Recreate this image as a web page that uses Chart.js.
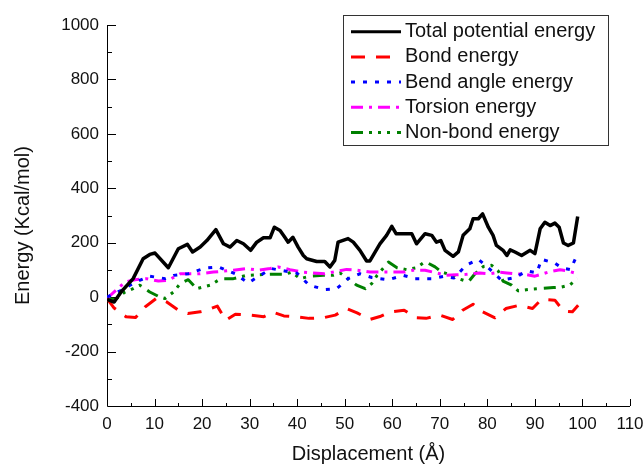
<!DOCTYPE html>
<html><head><meta charset="utf-8">
<script src="https://cdn.jsdelivr.net/npm/chart.js@4/dist/chart.umd.min.js"></script>
<style>html,body{margin:0;padding:0;background:#fff}#wrap{width:644px;height:466px}</style>
</head><body><div id="wrap"><canvas id="c" width="644" height="466"></canvas></div>
<script>
const xTickValues = [0,10,20,30,40,50,60,70,80,90,100,110];
const yTickValues = [-400,-200,0,200,400,600,800,1000];
const xTitle = 'Displacement (Å)';
const yTitle = 'Energy (Kcal/mol)';
const seriesNames = ['Total potential energy','Bond energy','Bend angle energy','Torsion energy','Non-bond energy'];

const totalX = [0,1.5,3,5.5,7.6,9,10.1,12.9,15,16.9,18,19.6,21,22.9,24.5,25.9,27.3,28.7,30.2,31.5,32.9,34.3,35.2,36.4,37.4,38.1,39.1,40.2,41.3,42,44.1,45.8,46.9,47.9,48.6,50.7,51.8,53.2,54.6,55.3,57.4,58.8,59.9,60.8,62.3,64.1,65.1,66.9,68.3,69.3,70.2,71.1,72.8,73.9,74.9,76.3,77,78.1,79,80.2,81.2,81.9,83.3,84.1,84.8,85.8,87.2,89,90,91.1,92.1,93.2,94.2,95.1,96,97,98.1,99];
const totalY = [-8,-18,20,68,141,157,162,108,178,194,166,184,208,248,196,184,208,196,172,202,218,218,257,245,220,202,220,184,153,141,131,131,111,135,202,215,202,172,133,133,196,227,260,233,233,233,196,233,227,202,208,172,150,166,227,251,288,288,306,257,227,190,172,153,174,166,153,172,160,251,275,263,272,257,199,190,199,296];

const bondX = [0,1.5,4,6,8,10.5,12.5,15,17,19.6,21,23.2,25,27,30,33,35,37.2,39.7,42.5,45.4,48,50.4,52.6,55.3,57.6,59.6,62.5,65,67.1,70,72.7,74.8,77,79,81.6,83.9,86.7,89.5,91.4,94.2,96,97.9,99.1];
const bondY = [-5,-40,-72,-75,-36,-3,-17,-48,-60,-54,-48,-33,-85,-63,-66,-72,-56,-69,-72,-78,-76,-66,-42,-58,-82,-70,-54,-48,-76,-78,-66,-82,-48,-26,-54,-76,-42,-30,-42,-8,-11,-51,-54,-30];

const bendX = [0,3,6,9,12.2,14,17.1,20.6,23.4,26.9,29.7,31.5,34.6,37.4,40,42.5,45.8,48.3,50.7,53.2,55.7,59.2,62.3,64.8,68.3,71.1,73,75.5,78.1,80.2,83,85.8,88.3,90.4,91.4,94.2,95.6,97.5,98.9];
const bendY = [0,25,55,77,68,80,86,107,111,86,52,72,105,96,88,44,28,31,68,86,72,64,80,68,68,77,70,117,139,108,62,72,96,89,139,125,108,101,157];

const torsionX = [0,3.8,5.9,8.3,10.8,12.9,15.4,19.6,22.4,26.6,29.4,31.8,34.3,36,38.5,41.3,43.4,45.8,48.3,50.4,52.5,55.3,59.9,62.7,64.4,66.9,69.3,71.4,73.5,75.6,78.4,80.5,82.6,84.1,85.8,87.9,90,92.8,95.3,97,98.9];
const torsionY = [-5,56,64,68,59,62,86,86,92,99,105,99,105,111,101,92,89,86,95,102,99,92,92,92,99,99,89,80,82,84,89,86,92,89,86,84,77,92,101,96,86];

const nonbondX = [0,1.7,3.8,5.5,6.9,9,10.8,12.2,14,15.4,17.1,18.9,21.7,23.4,24.5,26.6,29.4,31.5,34.6,37.4,38.9,40.6,42.7,45.5,47.5,49,50.7,52.5,54.3,55.7,56.8,59.2,61,63,65.1,66.9,69,70.4,72.8,73.9,76,77.4,79.2,80.9,82.3,83.3,85.1,86.5,88.6,90.7,93.9,95.6,97.3,98.9];
const nonbondY = [-5,-9,19,31,44,19,3,-5,19,50,64,31,44,62,68,68,80,82,84,84,92,68,77,80,80,89,68,44,31,50,80,129,108,101,108,131,111,92,80,68,56,86,113,117,96,59,44,23,28,31,35,37,44,68];

const colors = ['#000000','#ff0000','#0000ff','#ff00ff','#008000'];
const widths = [3.5,3,3,3,3];
const dashes = [[],[14,11],[4,8],[12,6,3,6],[12,6,3,6,3,6,3,7]];
const pts = (xs, ys) => xs.map((x, i) => ({x: x, y: ys[i]}));
const seriesData = [pts(totalX,totalY), pts(bondX,bondY), pts(bendX,bendY), pts(torsionX,torsionY), pts(nonbondX,nonbondY)];

const FONT = "'Liberation Sans', Arial, sans-serif";

const axesPlugin = {
  id: 'axesPlugin',
  beforeDatasetsDraw(chart) {
    const {ctx, chartArea: a, scales: {x, y}} = chart;
    ctx.save();
    ctx.strokeStyle = '#000';
    ctx.lineWidth = 1;
    ctx.beginPath();
    ctx.moveTo(Math.round(a.left) + 0.5, a.top);
    ctx.lineTo(Math.round(a.left) + 0.5, Math.round(a.bottom) + 0.5);
    ctx.lineTo(a.right, Math.round(a.bottom) + 0.5);
    ctx.stroke();
    ctx.beginPath();
    for (let v = x.min; v <= x.max + 0.001; v += 5) {
      const px = Math.round(x.getPixelForValue(v)) + 0.5;
      const len = (v % 10 === 0) ? 7 : 3;
      ctx.moveTo(px, Math.round(a.bottom));
      ctx.lineTo(px, Math.round(a.bottom) - len);
    }
    for (let v = y.min; v <= y.max + 0.001; v += 100) {
      const py = Math.round(y.getPixelForValue(v)) + 0.5;
      const len = (v % 200 === 0) ? 8 : 4;
      ctx.moveTo(Math.round(a.left) + 1, py);
      ctx.lineTo(Math.round(a.left) + 1 + len, py);
    }
    ctx.stroke();
    ctx.save();
    ctx.translate(23, 225.5);
    ctx.rotate(-Math.PI / 2);
    ctx.fillStyle = '#111';
    ctx.font = '20px ' + FONT;
    ctx.textAlign = 'center';
    ctx.textBaseline = 'middle';
    ctx.fillText(yTitle, 0, 0);
    ctx.restore();
    ctx.restore();
  },
  afterDraw(chart) {
    const ctx = chart.ctx;
    ctx.save();
    ctx.strokeStyle = '#333';
    ctx.lineWidth = 1;
    ctx.strokeRect(343.5, 15.5, 265, 130);
    const rows = [31.7, 56.9, 82.1, 107.3, 132.5];
    chart.data.datasets.forEach((ds, i) => {
      const ry = rows[i];
      ctx.beginPath();
      ctx.setLineDash(ds.borderDash || []);
      ctx.strokeStyle = ds.borderColor;
      ctx.lineWidth = 3;
      ctx.lineCap = 'butt';
      ctx.moveTo(351, ry);
      ctx.lineTo(401, ry);
      ctx.stroke();
      ctx.setLineDash([]);
      ctx.fillStyle = '#111';
      ctx.font = '20px ' + FONT;
      ctx.textBaseline = 'middle';
      ctx.textAlign = 'left';
      ctx.fillText(ds.label, 405, ry);
    });
    ctx.restore();
  }
};

new Chart(document.getElementById('c'), {
  type: 'line',
  data: {
    datasets: seriesNames.map((name, i) => ({
      label: name,
      data: seriesData[i],
      borderColor: colors[i],
      backgroundColor: colors[i],
      borderWidth: widths[i],
      borderDash: dashes[i],
      borderCapStyle: 'butt',
      borderJoinStyle: 'round',
      pointRadius: 0,
      tension: 0,
      fill: false
    }))
  },
  options: {
    responsive: false,
    animation: false,
    devicePixelRatio: 1,
    layout: {padding: {top: 25, right: 14, left: 0, bottom: 0}},
    plugins: {legend: {display: false}, tooltip: {enabled: false}},
    scales: {
      x: {
        type: 'linear', min: 0, max: 110,
        afterFit(s) { s.height = 60; s.paddingRight = 0; s.paddingLeft = 0; },
        afterBuildTicks(s) { s.ticks = xTickValues.map(v => ({value: v})); },
        border: {display: false},
        grid: {display: false, drawTicks: false},
        ticks: {color: '#111', font: {family: FONT, size: 17}, padding: 8, maxRotation: 0, autoSkip: false,
                callback: v => String(v)},
        title: {display: true, text: xTitle, color: '#111', font: {family: FONT, size: 20}, padding: {top: 0, bottom: 0}}
      },
      y: {
        type: 'linear', min: -400, max: 1000,
        afterFit(s) { s.width = 107; s.paddingTop = 0; s.paddingBottom = 0; },
        afterBuildTicks(s) { s.ticks = yTickValues.map(v => ({value: v})); },
        border: {display: false},
        grid: {display: false, drawTicks: false},
        ticks: {color: '#111', font: {family: FONT, size: 17}, padding: 8, autoSkip: false,
                callback: v => String(v)},
        title: {display: false}
      }
    }
  },
  plugins: [axesPlugin]
});
</script>
</body></html>
